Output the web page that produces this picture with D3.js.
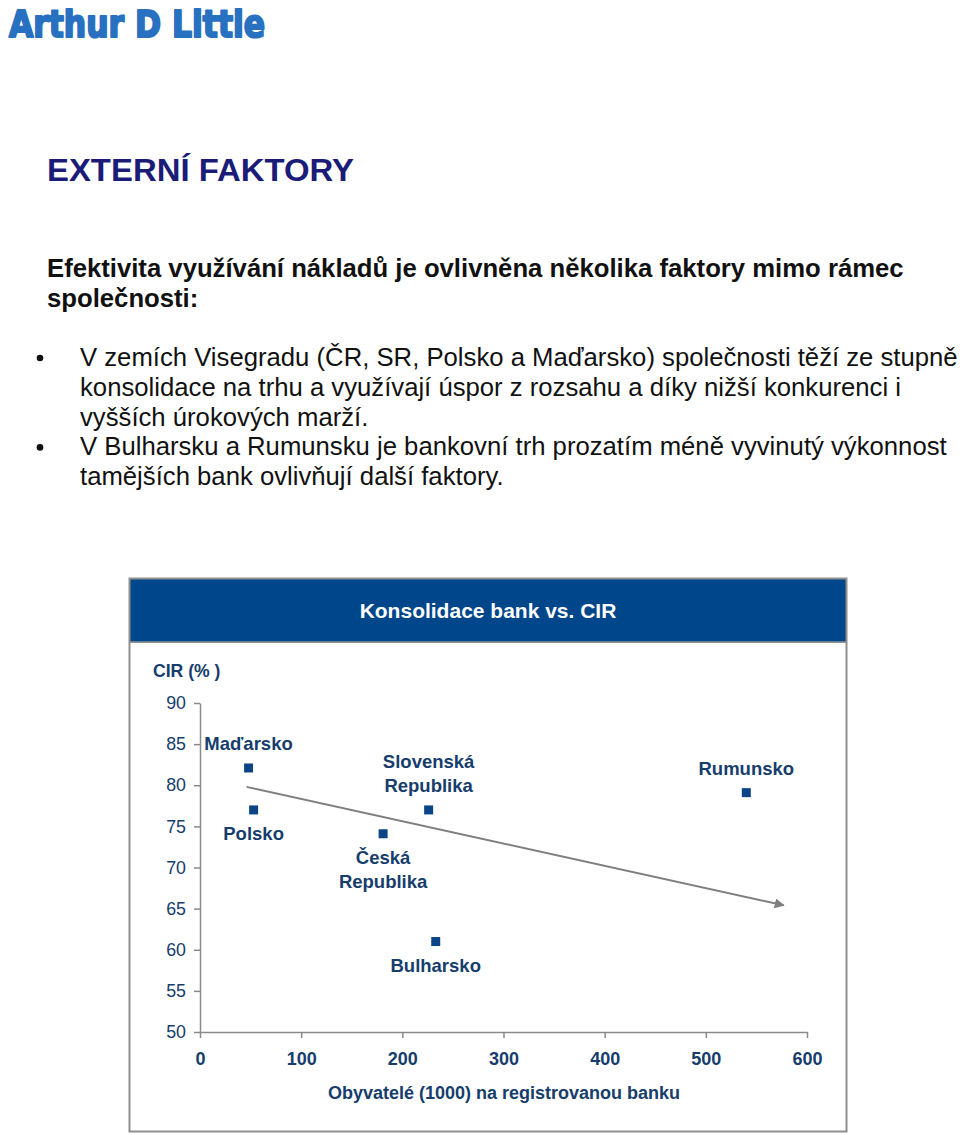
<!DOCTYPE html>
<html>
<head>
<meta charset="utf-8">
<script src="https://cdn.jsdelivr.net/npm/d3@7"></script>
<style>
  body { margin: 0; background: #fff; }
  svg { display: block; font-family: "Liberation Sans", Arial, sans-serif; }
</style>
</head>
<body>
<div id="page"></div>
<script>
// Konsolidace bank vs. CIR.
const countries = ['Maďarsko', 'Polsko', 'Česká Republika', 'Slovenská Republika', 'Bulharsko', 'Rumunsko'];
const residentsPerBank = [48, 53, 181, 226, 233, 540];   // thousands
const cirValues = [82.1, 77.0, 74.1, 77.0, 61.0, 79.1];   // %
const labelLines = [['Maďarsko'], ['Polsko'], ['Česká', 'Republika'], ['Slovenská', 'Republika'], ['Bulharsko'], ['Rumunsko']];
const trendX = [46, 577];
const trendY = [79.8, 65.4];
const xTicks = [0, 100, 200, 300, 400, 500, 600];
const yTicks = [50, 55, 60, 65, 70, 75, 80, 85, 90];

const introLines = ['Efektivita využívání nákladů je ovlivněna několika faktory mimo rámec', 'společnosti:'];
const bullets = [
  ['V zemích Visegradu (ČR, SR, Polsko a Maďarsko) společnosti těží ze stupně',
   'konsolidace na trhu a využívají úspor z rozsahu a díky nižší konkurenci i',
   'vyšších úrokových marží.'],
  ['V Bulharsku a Rumunsku je bankovní trh prozatím méně vyvinutý výkonnost',
   'tamějších bank ovlivňují další faktory.']
];

(function(){
  const W = 960, H = 1135;
  const svg = d3.select('#page').append('svg').attr('width', W).attr('height', H);
  svg.append('rect').attr('width', W).attr('height', H).attr('fill', '#fff');

  // Logo
  svg.append('text')
    .attr('x', 9).attr('y', 37)
    .attr('font-family', '"DejaVu Sans", sans-serif')
    .attr('font-weight', 'bold')
    .attr('font-size', 38)
    .attr('textLength', 256).attr('lengthAdjust', 'spacingAndGlyphs')
    .attr('fill', '#2870c0')
    .attr('stroke', '#2870c0').attr('stroke-width', 2.2).attr('stroke-linejoin', 'round')
    .text('Arthur D Little');

  // Heading
  svg.append('text')
    .attr('x', 47).attr('y', 181)
    .attr('font-size', 32).attr('font-weight', 'bold')
    .attr('textLength', 307).attr('lengthAdjust', 'spacingAndGlyphs')
    .attr('fill', '#1b1b78')
    .text('EXTERNÍ FAKTORY');

  // Intro
  const intro = svg.append('text').attr('font-weight', 'bold').attr('font-size', 25.7).attr('fill', '#111');
  introLines.forEach((t, i) => intro.append('tspan').attr('x', 47).attr('y', 277 + i * 30).text(t));

  // Bullets
  let lineY = 366;
  bullets.forEach(lines => {
    svg.append('circle').attr('cx', 40).attr('cy', lineY - 8).attr('r', 3.3).attr('fill', '#111');
    lines.forEach(t => {
      svg.append('text').attr('x', 80).attr('y', lineY)
        .attr('font-size', 25.7).attr('fill', '#111').text(t);
      lineY += 29.8;
    });
  });

  // Chart panel
  const panel = {x: 129.5, y: 578.5, w: 717, h: 553};
  svg.append('rect')
    .attr('x', panel.x).attr('y', panel.y).attr('width', panel.w).attr('height', 64)
    .attr('fill', '#00468a');
  svg.append('rect')
    .attr('x', panel.x).attr('y', panel.y).attr('width', panel.w).attr('height', panel.h)
    .attr('fill', 'none').attr('stroke', '#8f8f8f').attr('stroke-width', 2);
  svg.append('line')
    .attr('x1', panel.x).attr('x2', panel.x + panel.w).attr('y1', 642).attr('y2', 642)
    .attr('stroke', '#8f8f8f').attr('stroke-width', 1.5);
  svg.append('text')
    .attr('x', 488).attr('y', 618)
    .attr('text-anchor', 'middle').attr('font-weight', 'bold').attr('font-size', 21)
    .attr('fill', '#fff').text('Konsolidace bank vs. CIR');

  const textColor = '#163d6c';
  const axisColor = '#8a8a8a';

  const x = d3.scaleLinear().domain([0, 600]).range([200, 807]);
  const y = d3.scaleLinear().domain([50, 90]).range([1032, 703]);

  const yAxis = svg.append('g').attr('transform', 'translate(200,0)')
    .call(d3.axisLeft(y).tickValues(yTicks).tickSize(6).tickPadding(8).tickSizeOuter(0));
  yAxis.selectAll('text').attr('font-size', 17.8).attr('fill', textColor).attr('font-family', '"Liberation Sans", Arial, sans-serif');

  const xAxis = svg.append('g').attr('transform', 'translate(0,1032)')
    .call(d3.axisBottom(x).tickValues(xTicks).tickSize(6).tickPadding(14).tickSizeOuter(0));
  xAxis.selectAll('text').attr('font-size', 18).attr('font-weight', 'bold').attr('fill', textColor).attr('font-family', '"Liberation Sans", Arial, sans-serif');

  [yAxis, xAxis].forEach(g => {
    g.select('.domain').attr('stroke', axisColor).attr('stroke-width', 1.5);
    g.selectAll('.tick line').attr('stroke', axisColor).attr('stroke-width', 1.5);
  });

  svg.append('text').attr('x', 153).attr('y', 677)
    .attr('font-weight', 'bold').attr('font-size', 17.6).attr('fill', textColor)
    .text('CIR (% )');

  svg.append('text').attr('x', 504).attr('y', 1099)
    .attr('text-anchor', 'middle').attr('font-weight', 'bold').attr('font-size', 18).attr('fill', textColor)
    .text('Obyvatelé (1000) na registrovanou banku');

  // Trend arrow
  svg.append('defs').append('marker')
    .attr('id', 'arrow').attr('viewBox', '0 0 10 10')
    .attr('refX', 9).attr('refY', 5)
    .attr('markerWidth', 5).attr('markerHeight', 5)
    .attr('orient', 'auto')
    .append('path').attr('d', 'M0,0L10,5L0,10z').attr('fill', '#7f7f7f');

  svg.append('line')
    .attr('x1', x(trendX[0])).attr('y1', y(trendY[0]))
    .attr('x2', x(trendX[1])).attr('y2', y(trendY[1]))
    .attr('stroke', '#7f7f7f').attr('stroke-width', 2)
    .attr('marker-end', 'url(#arrow)');

  // Points and labels
  const points = countries.map((c, i) => ({name: c, x: residentsPerBank[i], y: cirValues[i], lines: labelLines[i]}));
  const below = new Set(['Polsko', 'Česká Republika', 'Bulharsko']);

  svg.selectAll('rect.pt').data(points).join('rect')
    .attr('class', 'pt')
    .attr('x', d => x(d.x) - 4.5).attr('y', d => y(d.y) - 4.5)
    .attr('width', 9).attr('height', 9)
    .attr('fill', '#0b4586');

  points.forEach(d => {
    const px = x(d.x), py = y(d.y);
    const n = d.lines.length;
    d.lines.forEach((t, i) => {
      const cy = below.has(d.name) ? py + 24 + i * 24 : py - 24 - (n - 1 - i) * 24;
      svg.append('text').attr('x', px).attr('y', cy + 6.5)
        .attr('text-anchor', 'middle').attr('font-weight', 'bold').attr('font-size', 18.5)
        .attr('fill', textColor).text(t);
    });
  });
})();
</script>
</body>
</html>
